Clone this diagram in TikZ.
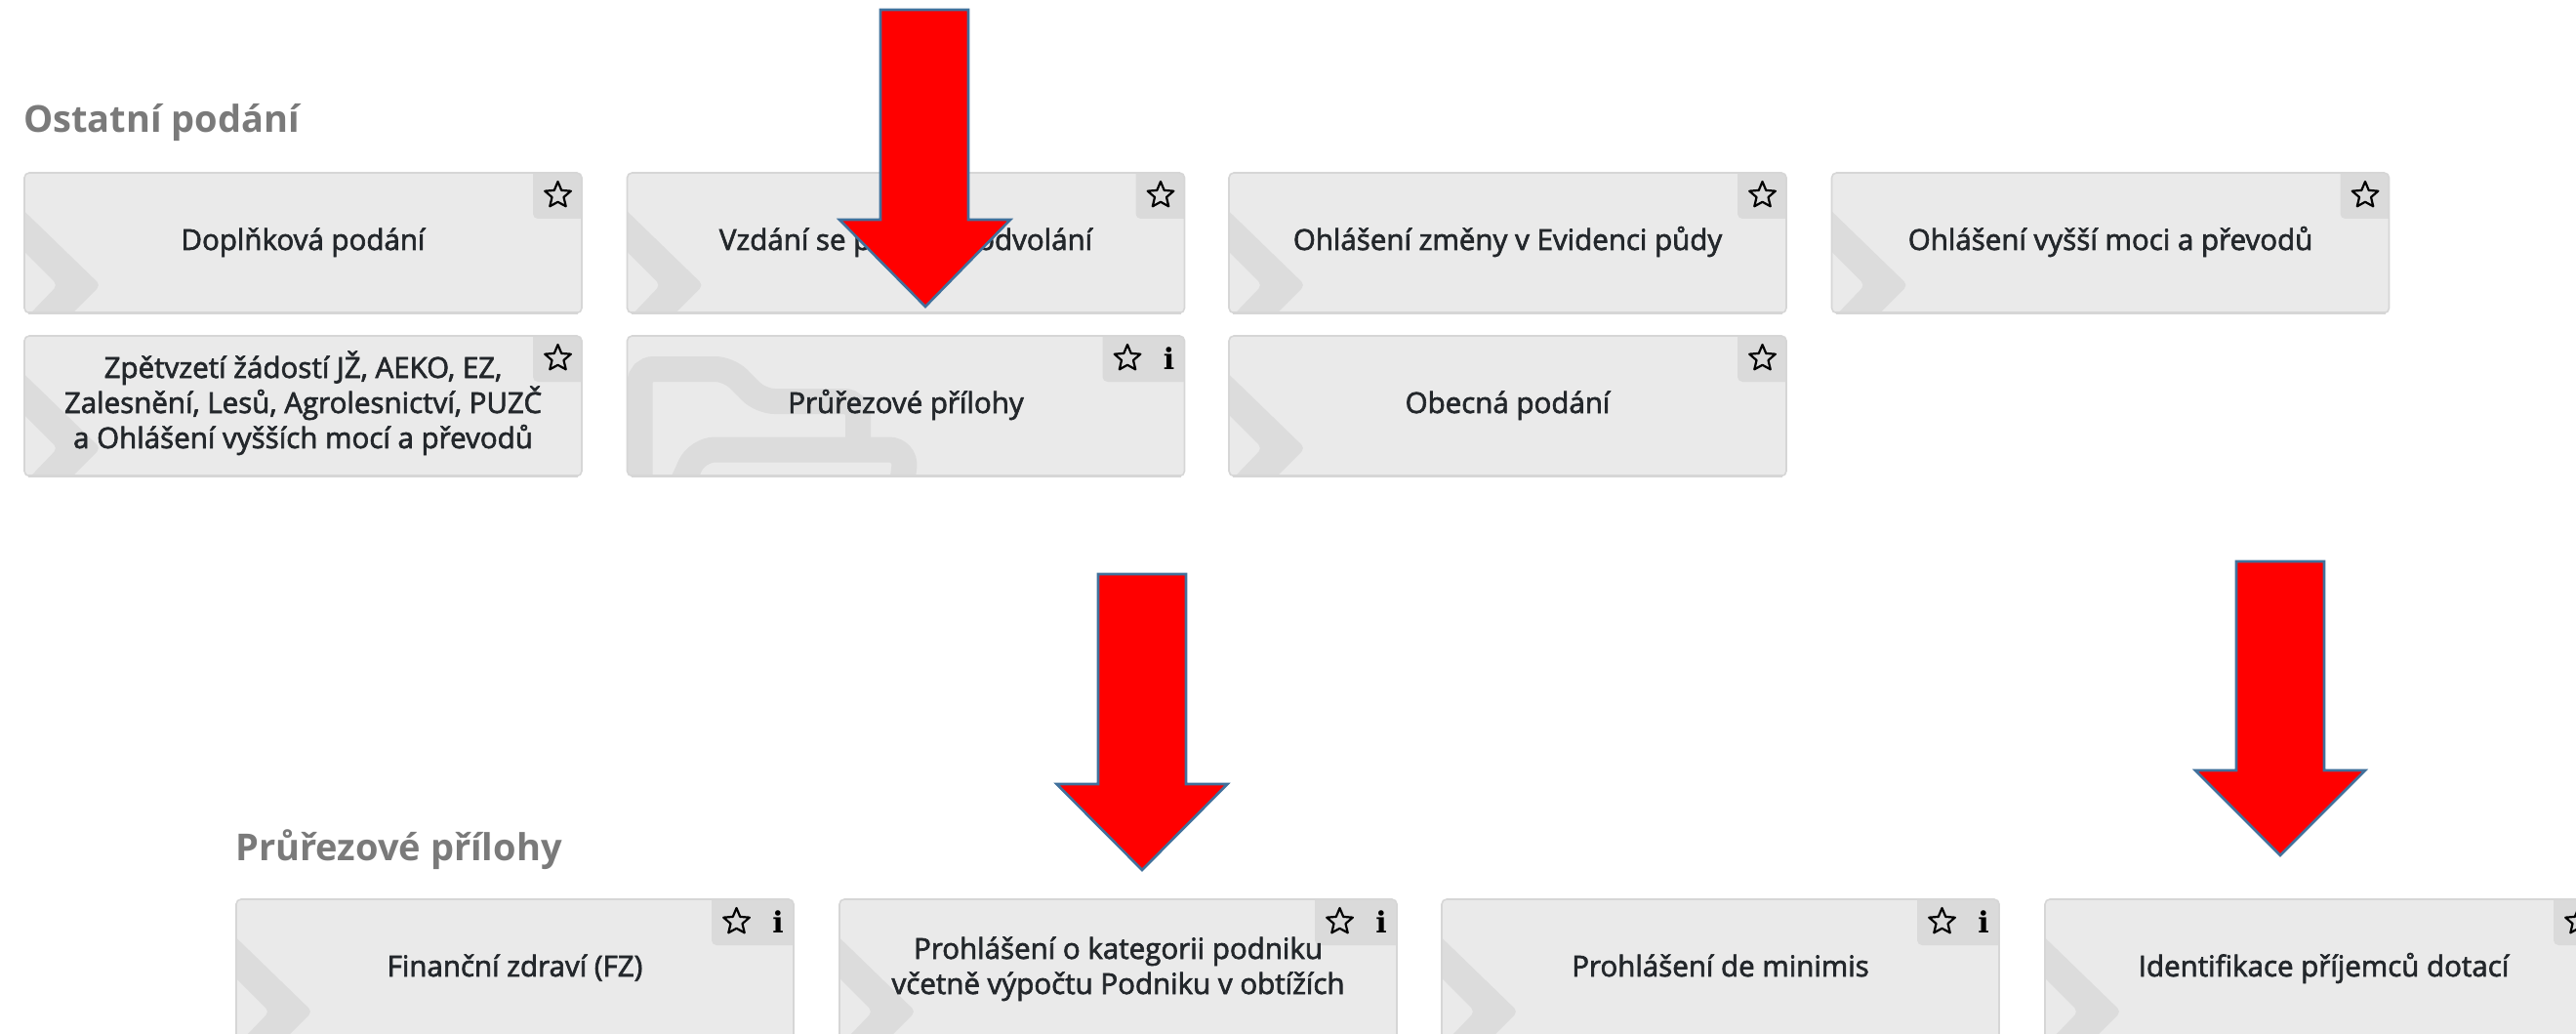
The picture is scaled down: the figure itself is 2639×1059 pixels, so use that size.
\documentclass[tikz,border=0pt]{standalone}
\usepackage{fontspec}
\setmainfont{Open Sans}[RawFeature={embolden=2.2}]
\newfontfamily\headfont{Open Sans}[BoldFont={* Bold}]
\newfontfamily\iconfont{DejaVu Serif Bold}
\definecolor{cardfill}{HTML}{EAEAEA}
\definecolor{cardline}{HTML}{D6D6D6}
\definecolor{artgray}{HTML}{DCDCDC}
\definecolor{iconbox}{HTML}{DADADA}
\definecolor{headgray}{HTML}{7A7A7A}
\definecolor{cardink}{HTML}{23272B}
\definecolor{arrowline}{HTML}{41719C}
\newcommand{\ls}{\rule[-12pt]{0pt}{44pt}}
\newcommand{\chevronart}{%
  \fill[artgray,rounded corners=5pt] (-20,20) -- (78,115) -- (30,163) -- (-12,163) -- (34,115) -- (-20,61) -- cycle;}
\newcommand{\folderart}{%
  \draw[artgray,line width=26pt,rounded corners=14pt] (13,170) -- (13,34) -- (104,34) -- (137,67) -- (236.5,67) -- (236.5,116);
  \draw[artgray,line width=26pt,rounded corners=18pt] (50,165) -- (72,116.5) -- (286,116.5) -- (280,165);}
\newcommand{\starmark}[2]{%
  \draw[black,line width=2.2pt,line join=round] ([shift={(#1,#2)}]90:14pt) -- ([shift={(#1,#2)}]126:6.3pt) -- ([shift={(#1,#2)}]162:14pt) -- ([shift={(#1,#2)}]198:6.3pt) -- ([shift={(#1,#2)}]234:14pt) -- ([shift={(#1,#2)}]270:6.8pt) -- ([shift={(#1,#2)}]306:14pt) -- ([shift={(#1,#2)}]342:6.3pt) -- ([shift={(#1,#2)}]18:14pt) -- ([shift={(#1,#2)}]54:6.3pt) -- cycle;}
% #1 name  #2 x  #3 y  #4 background art  #5 icon box width (50 or 84)  #6 text
\newcommand{\card}[6]{%
  \begin{scope}[shift={(#2,#3)}]
    \begin{scope}
      \clip[rounded corners=5pt] (0,0) rectangle (571,143.5);
      \fill[cardfill] (0,0) rectangle (571,143.5);
      #4
      \fill[iconbox,rounded corners=5pt] (571-#5,-12) rectangle (590,47);
    \end{scope}
    \draw[cardline,line width=1.6pt,rounded corners=5pt] (0,0) rectangle (571,143.5);
    \draw[cardline,line width=2.4pt] (4,143.5) -- (567,143.5);
    \starmark{571-#5+25.5}{23}
    \ifnum#5>60
      \node[iconmark] at (555,23) {i};
    \fi
    \node[cardtext] (#1) at (285.5,69) {#6};
  \end{scope}}
\tikzset{
  cardtext/.style={inner sep=0pt,align=center,text=cardink,font=\fontsize{29.5}{36}\selectfont},
  headtext/.style={inner sep=0pt,anchor=base west,text=headgray,font=\headfont\fontsize{38}{44}\selectfont\bfseries},
  iconmark/.style={inner sep=0pt,text=black,font=\iconfont\fontsize{30}{30}\selectfont},
  blockarrow/.style={fill=red,draw=arrowline,line width=2.6pt,line join=miter}
}
\AtBeginDocument{\lineskiplimit=-100pt\relax\lineskip=0pt\relax}
\begin{document}
\begin{tikzpicture}[x=1pt,y=-1pt]
\useasboundingbox (0,0) rectangle (2639,1059);
\begin{scope}
\clip (0,0) rectangle (2639,1059);
\node[headtext] (h1) at (24,136) {Ostatní podání};
\card{c1}{25}{177}{\chevronart}{50}{\ls Doplňková podání}
\card{c2}{642.5}{177}{\chevronart}{50}{\ls Vzdání se práva na odvolání}
\card{c3}{1259}{177}{\chevronart}{50}{\ls Ohlášení změny v Evidenci půdy}
\card{c4}{1876.5}{177}{\chevronart}{50}{\ls Ohlášení vyšší moci a převodů}
\card{c5}{25}{344}{\chevronart}{50}{\ls Zpětvzetí žádostí JŽ, AEKO, EZ,\\\ls Zalesnění, Lesů, Agrolesnictví, PUZČ\\\ls a Ohlášení vyšších mocí a převodů}
\card{c6}{642.5}{344}{\folderart}{84}{\ls Průřezové přílohy}
\card{c7}{1259}{344}{\chevronart}{50}{\ls Obecná podání}
\node[headtext] (h2) at (241,881) {Průřezové přílohy};
\card{d1}{242}{921}{\chevronart}{84}{\ls Finanční zdraví (FZ)}
\card{d2}{860}{921}{\chevronart}{84}{\ls Prohlášení o kategorii podniku\\\ls včetně výpočtu Podniku v obtížích}
\card{d3}{1477}{921}{\chevronart}{84}{\ls Prohlášení de minimis}
\card{d4}{2095}{921}{\chevronart}{50}{\ls Identifikace příjemců dotací}
\draw[blockarrow] (902,10) -- (992,10) -- (992,225) -- (1035,225) -- (948,314) -- (860,225) -- (902,225) -- cycle;
\draw[blockarrow] (1125,588) -- (1215,588) -- (1215,803) -- (1257.5,803) -- (1170,891) -- (1082.5,803) -- (1125,803) -- cycle;
\draw[blockarrow] (2291,575) -- (2381,575) -- (2381,789) -- (2423,789) -- (2336,876) -- (2249,789) -- (2291,789) -- cycle;
\end{scope}
\end{tikzpicture}
\end{document}
